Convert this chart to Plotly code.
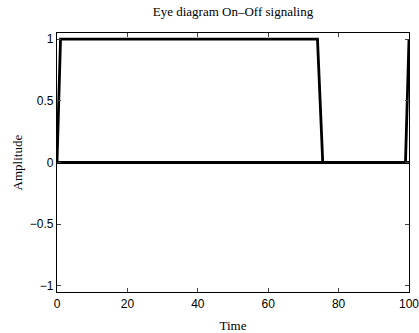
import plotly.graph_objects as go

# eye-diagram traces
pulse_t = [0, 1, 74, 75.5, 99, 100]
pulse_a = [0, 1, 1, 0, 0, 1]
zero_t = [0, 100]
zero_a = [0, 0]

x_ticks = [0, 20, 40, 60, 80, 100]
y_ticks = [-1, -0.5, 0, 0.5, 1]
y_tick_text = ["\u22121", "\u22120.5", "0", "0.5", "1"]

fig = go.Figure()
fig.add_trace(go.Scatter(x=zero_t, y=zero_a, mode="lines",
                         line=dict(color="black", width=2.8), showlegend=False))
fig.add_trace(go.Scatter(x=pulse_t, y=pulse_a, mode="lines",
                         line=dict(color="black", width=2.8), showlegend=False))

serif = "Liberation Serif, Times New Roman, serif"
sans = "Liberation Sans, Arial, sans-serif"

fig.update_layout(
    width=419, height=333,
    margin=dict(l=57, r=10, t=33, b=41),
    paper_bgcolor="white", plot_bgcolor="white",
    title=dict(text="Eye diagram On\u2013Off signaling", x=0.556, xanchor="center",
               y=0.965, yanchor="middle",
               font=dict(family=serif, size=13, color="black")),
    xaxis=dict(range=[0, 100], tickvals=x_ticks, ticks="inside", ticklen=4,
               showline=True, linecolor="black", linewidth=1.3, mirror="ticks",
               showgrid=False, zeroline=False, ticklabeloverflow="allow",
               automargin=False,
               tickfont=dict(family=sans, size=12, color="black"),
               title=dict(text="Time", font=dict(family=serif, size=13, color="black"))),
    yaxis=dict(range=[-1.05, 1.05], tickvals=y_ticks, ticktext=y_tick_text,
               ticks="inside", ticklen=4,
               showline=True, linecolor="black", linewidth=1.3, mirror="ticks",
               showgrid=False, zeroline=False, ticklabeloverflow="allow",
               automargin=False,
               tickfont=dict(family=sans, size=12, color="black")),
    annotations=[dict(text="Amplitude", textangle=-90, xref="paper", yref="paper",
                      x=-0.111, y=0.5, xanchor="center", yanchor="middle",
                      showarrow=False,
                      font=dict(family=serif, size=13, color="black"))],
)

fig.write_html("out.html")
